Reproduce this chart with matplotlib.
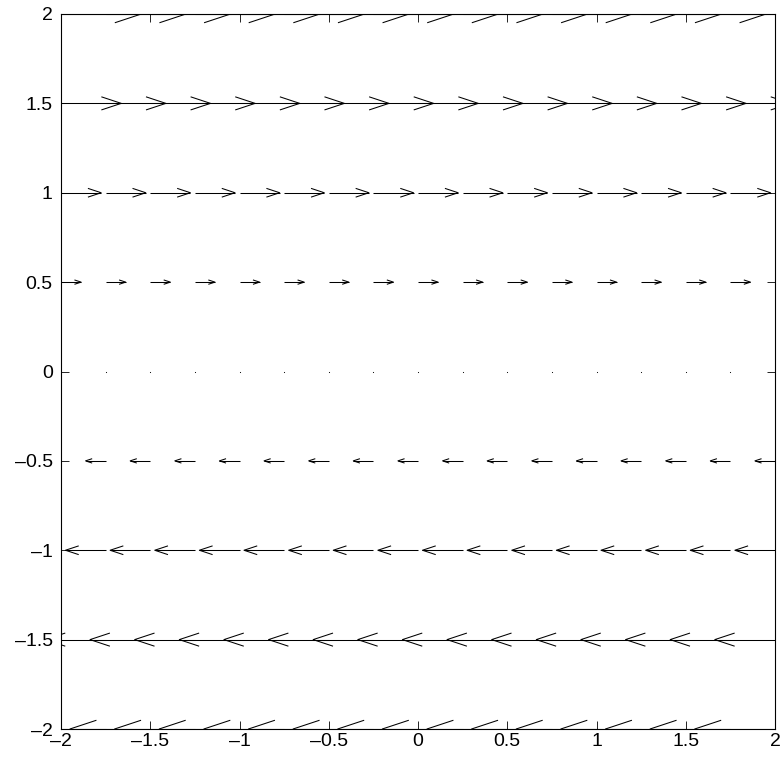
import numpy as np
import matplotlib
matplotlib.use("Agg")
import matplotlib.pyplot as plt
from matplotlib.collections import LineCollection
from matplotlib.ticker import FuncFormatter

# grid of the quiver plot
x_pos = [-2, -1.75, -1.5, -1.25, -1, -0.75, -0.5, -0.25, 0,
         0.25, 0.5, 0.75, 1, 1.25, 1.5, 1.75, 2]
y_pos = [-2, -1.5, -1, -0.5, 0, 0.5, 1, 1.5, 2]
# horizontal component for each row (vertical component is zero)
u_row = [-2, -1.5, -1, -0.5, 0, 0.5, 1, 1.5, 2]
v_row = [0, 0, 0, 0, 0, 0, 0, 0, 0]

ticks = [-2, -1.5, -1, -0.5, 0, 0.5, 1, 1.5, 2]

X, Y = np.meshgrid(x_pos, y_pos)
U = np.repeat(np.array(u_row, float)[:, None], len(x_pos), axis=1)
V = np.repeat(np.array(v_row, float)[:, None], len(x_pos), axis=1)

# matlab style arrows: shaft + open head
scale = 0.225
alpha, beta = 0.33, 0.33
x, y = X.ravel(), Y.ravel()
u, v = U.ravel() * scale, V.ravel() * scale

segs = []
for xi, yi, ui, vi in zip(x, y, u, v):
    if ui == 0 and vi == 0:
        continue
    tx, ty = xi + ui, yi + vi
    segs.append([(xi, yi), (tx, ty)])
    b1 = (tx - alpha * (ui + beta * vi), ty - alpha * (vi - beta * ui))
    b2 = (tx - alpha * (ui - beta * vi), ty - alpha * (vi + beta * ui))
    segs.append([b1, (tx, ty), b2])

fig = plt.figure(figsize=(7.83, 7.59), dpi=100)
ax = fig.add_axes([61 / 783, 30 / 759, 714 / 783, 715 / 759])

ax.add_collection(LineCollection(segs, colors="black", linewidths=0.75))

# zero-length vectors show up as dots
zero = (U.ravel() == 0) & (V.ravel() == 0)
ax.plot(x[zero], y[zero], "o", color="black", markersize=0.8, markeredgewidth=0)

ax.set_xlim(-2, 2)
ax.set_ylim(-2, 2)
ax.set_xticks(ticks)
ax.set_yticks(ticks)
fmt = FuncFormatter(lambda val, pos: ("%g" % val).replace("-", "\u2013"))
ax.xaxis.set_major_formatter(fmt)
ax.yaxis.set_major_formatter(fmt)
ax.tick_params(direction="in", length=6, width=0.6, top=True, right=True,
               labelsize=14)
ax.tick_params(axis="x", pad=3)
ax.tick_params(axis="y", pad=6)
for lbl in ax.get_xticklabels() + ax.get_yticklabels():
    lbl.set_family(["Liberation Sans", "DejaVu Sans"])
for sp in ax.spines.values():
    sp.set_linewidth(0.8)

fig.savefig("out.png", dpi=100)
